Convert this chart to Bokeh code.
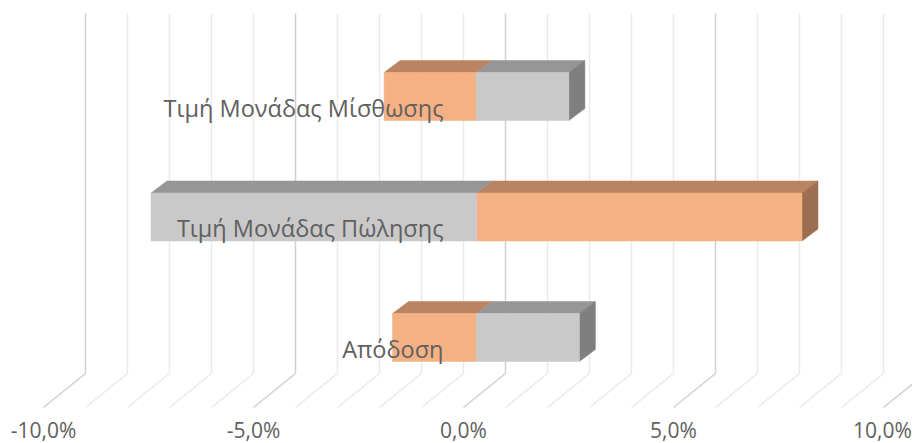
from bokeh.plotting import figure
from bokeh.models import Range1d
from bokeh.embed import file_html
from bokeh.resources import INLINE
from bokeh.core.properties import value

# ---------------- data ----------------
categories = ["Απόδοση", "Τιμή Μονάδας Πώλησης", "Τιμή Μονάδας Μίσθωσης"]
series_orange = [-2.0, 7.75, -2.2]   # % change
series_gray = [2.45, -7.75, 2.2]     # % change
tick_values = [-10, -5, 0, 5, 10]
tick_labels = ["-10,0%", "-5,0%", "0,0%", "5,0%", "10,0%"]
grid_values = list(range(-10, 11))

# ---------------- layout / projection constants ----------------
W, H = 912, 443
PX_PER_PCT = 42.0
ZERO_PX = 463.0
PX_PER_CAT = 120.5
CAT0_PX = 337.0
X_START = -ZERO_PX / PX_PER_PCT
X_END = (W - ZERO_PX) / PX_PER_PCT
Y_END = CAT0_PX / PX_PER_CAT
Y_START = -(H - CAT0_PX) / PX_PER_CAT

WALL_DX = 1.0                      # depth offset of the back wall (in %)
FLOOR_FRONT = (CAT0_PX - 407) / PX_PER_CAT
FLOOR_BACK = (CAT0_PX - 373) / PX_PER_CAT
WALL_TOP = (CAT0_PX - 13) / PX_PER_CAT

BAR_SHIFT = 13 / PX_PER_PCT        # bar front plane vs. front floor edge
BAR_DX = 16 / PX_PER_PCT
BAR_DY = 12 / PX_PER_CAT
BAR_HALF = 24 / PX_PER_CAT

COL = {
    "orange": ("#F4B183", "#BA8361", "#9C6F50"),
    "gray": ("#C9C9C9", "#969696", "#7F7F7F"),
}

p = figure(width=W, height=H, x_range=Range1d(X_START, X_END),
           y_range=Range1d(Y_START, Y_END), output_backend="svg",
           toolbar_location=None, min_border=0,
           x_axis_type=None, y_axis_type=None)
p.grid.visible = False
p.outline_line_color = None
p.background_fill_color = "white"
p.border_fill_color = "white"

# back wall gridlines and floor lines
def gcol(v):
    return "#D0D0D0" if v % 5 == 0 else "#EAEAEA"

p.segment(x0=[v + WALL_DX for v in grid_values], y0=[FLOOR_BACK] * len(grid_values),
          x1=[v + WALL_DX for v in grid_values], y1=[WALL_TOP] * len(grid_values),
          line_color=[gcol(v) for v in grid_values], line_width=1.5)
p.segment(x0=[v + WALL_DX for v in grid_values], y0=[FLOOR_BACK] * len(grid_values),
          x1=grid_values, y1=[FLOOR_FRONT] * len(grid_values),
          line_color=[gcol(v) for v in grid_values], line_width=1.5)

# 3D bars
for name, vals in (("orange", series_orange), ("gray", series_gray)):
    front, top, side = COL[name]
    ys = list(range(len(categories)))
    lefts = [min(0, v) + BAR_SHIFT for v in vals]
    rights = [max(0, v) + BAR_SHIFT for v in vals]
    # top faces
    p.patches(xs=[[l, r, r + BAR_DX, l + BAR_DX] for l, r in zip(lefts, rights)],
              ys=[[y + BAR_HALF, y + BAR_HALF, y + BAR_HALF + BAR_DY, y + BAR_HALF + BAR_DY] for y in ys],
              fill_color=top, line_color=top, line_width=0.5)
    # right side faces (only visible on the right end)
    sx = [[r, r + BAR_DX, r + BAR_DX, r] for r, v in zip(rights, vals) if v > 0]
    sy = [[y - BAR_HALF, y - BAR_HALF + BAR_DY, y + BAR_HALF + BAR_DY, y + BAR_HALF]
          for y, v in zip(ys, vals) if v > 0]
    if sx:
        p.patches(xs=sx, ys=sy, fill_color=side, line_color=side, line_width=0.5)
    # front faces
    p.quad(left=lefts, right=rights, bottom=[y - BAR_HALF for y in ys],
           top=[y + BAR_HALF for y in ys], fill_color=front, line_color=front, line_width=0.5)

# category labels
p.text(x=[0] * len(categories), y=list(range(len(categories))), text=categories,
       x_offset=-20, y_offset=11, text_align="right", text_baseline="alphabetic",
       text_font=value("Open Sans"), text_font_size="23.5px", text_color="#606060")

# value tick labels at the front edge of the floor
p.text(x=tick_values, y=[FLOOR_FRONT] * len(tick_values), text=tick_labels,
       x_offset=[0, 0, 0, 0, -1], y_offset=22, text_align="center", text_baseline="alphabetic",
       text_font=value("Open Sans"), text_font_size="21px", text_color="#606060")

open("out.html", "w").write(file_html(p, INLINE))
